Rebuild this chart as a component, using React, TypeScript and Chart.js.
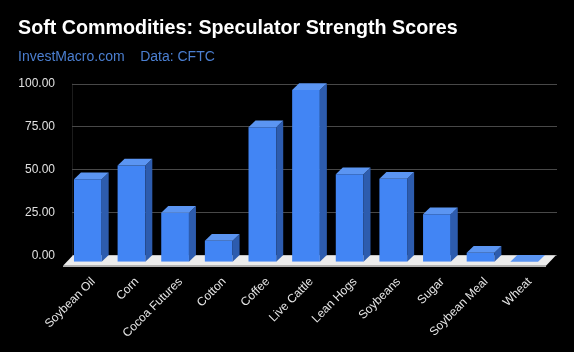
import React, { useEffect, useRef } from "react";
import { Chart, registerables } from "chart.js";

Chart.register(...registerables);

const categories: string[] = [
  "Soybean Oil",
  "Corn",
  "Cocoa Futures",
  "Cotton",
  "Coffee",
  "Live Cattle",
  "Lean Hogs",
  "Soybeans",
  "Sugar",
  "Soybean Meal",
  "Wheat",
];
const scores: number[] = [48, 56, 28.5, 12.2, 78.3, 100, 51, 48.3, 27.6, 5.2, 0];
const yTicks: number[] = [0, 25, 50, 75, 100];

const titleText = "Soft Commodities: Speculator Strength Scores";
const subtitleText = "InvestMacro.com    Data: CFTC";

const FONT = "'Liberation Sans', Arial, sans-serif";
const DX = 7;
const DY = 6.7;

const threeD = {
  id: "threeD",
  beforeDatasetsDraw(chart: any) {
    const { ctx, chartArea } = chart;
    const ys = chart.scales.y;
    const zero = ys.getPixelForValue(0);
    ctx.save();
    ctx.strokeStyle = "#1c1c1c";
    ctx.lineWidth = 1;
    ctx.beginPath();
    ctx.moveTo(Math.round(chartArea.left + 6) + 0.5, ys.getPixelForValue(100) - 6.5);
    ctx.lineTo(Math.round(chartArea.left + 6) + 0.5, zero - 6.5);
    ctx.stroke();
    ctx.strokeStyle = "#484848";
    for (const v of yTicks) {
      const y = Math.round(ys.getPixelForValue(v) - 6.5) + 0.5;
      ctx.beginPath();
      ctx.moveTo(chartArea.left + 6, y);
      ctx.lineTo(chartArea.right + 11, y);
      ctx.stroke();
    }
    const fy = zero + 4;
    const by = zero - 6.5;
    ctx.fillStyle = "#ececec";
    ctx.beginPath();
    ctx.moveTo(chartArea.left - 3, fy);
    ctx.lineTo(chartArea.right, fy);
    ctx.lineTo(chartArea.right + 10, by);
    ctx.lineTo(chartArea.left + 7, by);
    ctx.closePath();
    ctx.fill();
    ctx.strokeStyle = "#b0b0b0";
    ctx.beginPath();
    ctx.moveTo(chartArea.left - 3, Math.round(fy) + 0.5);
    ctx.lineTo(chartArea.right, Math.round(fy) + 0.5);
    ctx.stroke();
    ctx.restore();
  },
  afterDatasetsDraw(chart: any) {
    const { ctx } = chart;
    const meta = chart.getDatasetMeta(0);
    ctx.save();
    meta.data.forEach((bar: any) => {
      const p = bar.getProps(["x", "y", "base", "width"], true);
      const l = p.x - p.width / 2;
      const r = p.x + p.width / 2;
      const top = p.y;
      const base = p.base;
      ctx.fillStyle = "#2d5cae";
      ctx.beginPath();
      ctx.moveTo(r, top);
      ctx.lineTo(r + DX, top - DY);
      ctx.lineTo(r + DX, base - DY);
      ctx.lineTo(r, base);
      ctx.closePath();
      ctx.fill();
      ctx.fillStyle = "#5b95f2";
      ctx.beginPath();
      ctx.moveTo(l, top);
      ctx.lineTo(l + DX, top - DY);
      ctx.lineTo(r + DX, top - DY);
      ctx.lineTo(r, top);
      ctx.closePath();
      ctx.fill();
    });
    ctx.restore();
  },
};

export default function App() {
  const ref = useRef<HTMLCanvasElement>(null);

  useEffect(() => {
    document.body.style.margin = "0";
    document.body.style.background = "#000";
    const canvas = ref.current;
    if (!canvas) return;
    const chart = new Chart(canvas, {
      type: "bar",
      data: {
        labels: categories,
        datasets: [
          {
            data: scores,
            backgroundColor: "#4285f4",
            borderWidth: 0,
            barPercentage: 0.635,
            categoryPercentage: 1,
          },
        ],
      },
      options: {
        responsive: false,
        animation: false,
        devicePixelRatio: 1,
        layout: { padding: { left: 18, right: 28, top: 0, bottom: 0 } },
        plugins: {
          legend: { display: false },
          tooltip: { enabled: false },
          title: {
            display: true,
            text: titleText,
            align: "start",
            color: "#ffffff",
            font: { family: FONT, size: 19.7, weight: "bold" },
            padding: { top: 17, bottom: 8.2 },
          },
          subtitle: {
            display: true,
            text: subtitleText,
            align: "start",
            color: "#4b7fd1",
            font: { family: FONT, size: 14, weight: "normal" },
            padding: { top: 0, bottom: 24.4 },
          },
        },
        scales: {
          x: {
            grid: { display: false, drawTicks: false },
            border: { display: false },
            ticks: {
              color: "#e6e6e6",
              font: { family: FONT, size: 12 },
              maxRotation: 45,
              minRotation: 45,
              padding: 13,
              labelOffset: 5.5,
              autoSkip: false,
            },
            afterFit: (s: any) => {
              s.height = 90.3;
            },
          },
          y: {
            min: 0,
            max: 100,
            grid: { display: false, drawTicks: false },
            border: { display: false },
            ticks: {
              stepSize: 25,
              color: "#e0e0e0",
              font: { family: FONT, size: 12 },
              padding: 11,
              labelOffset: -6.5,
              callback: (v: any) => Number(v).toFixed(2),
            },
            afterFit: (s: any) => {
              s.width = 48;
            },
          },
        },
      },
      plugins: [threeD],
    });
    return () => chart.destroy();
  }, []);

  return (
    <div
      style={{
        position: "fixed",
        left: 0,
        top: 0,
        width: 574,
        height: 352,
        background: "#000",
      }}
    >
      <canvas ref={ref} width={574} height={352} style={{ display: "block" }} />
    </div>
  );
}
